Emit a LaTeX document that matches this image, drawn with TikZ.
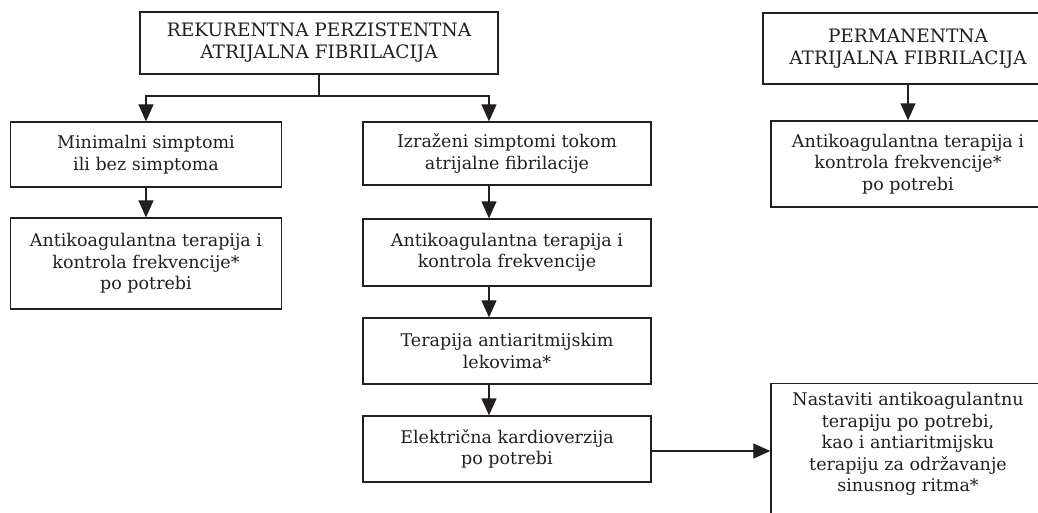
\documentclass[tikz,border=0pt]{standalone}
\usepackage{fontspec}
\setmainfont{DejaVu Serif}
\usetikzlibrary{arrows.meta}
\definecolor{ink}{RGB}{35,31,32}
\begin{document}
\begin{tikzpicture}[x=1pt,y=-1pt,
  txt/.style={align=center, text=ink, font=\fontsize{17.5}{21.5}\selectfont, inner sep=0pt},
  box/.style={txt, draw=ink, line width=1.3pt},
  head/.style={box, font=\fontsize{18.5}{22}\selectfont},
  wire/.style={draw=ink, line width=1.1pt},
  link/.style={wire, -{Triangle[length=17pt,width=15pt]}},
]
\clip (0,0) rectangle (1038,512);

% left branch: recurrent persistent AF
\node[head, minimum width=358pt, minimum height=62pt] (top) at (319,43)
  {REKURENTNA PERZISTENTNA\\ATRIJALNA FIBRILACIJA};

\node[box, minimum width=271pt, minimum height=65pt] (L1) at (146,154.5)
  {Minimalni simptomi\\ili bez simptoma};
\node[box, minimum width=271pt, minimum height=91pt] (L2) at (146,263.5)
  {Antikoagulantna terapija i\\kontrola frekvencije*\\po potrebi};

\node[box, minimum width=288pt, minimum height=63pt] (M1) at (507,153.5)
  {Izraženi simptomi tokom\\atrijalne fibrilacije};
\node[box, minimum width=288pt, minimum height=67pt] (M2) at (507,252.5)
  {Antikoagulantna terapija i\\kontrola frekvencije};
\node[box, minimum width=288pt, minimum height=66pt] (M3) at (507,351)
  {Terapija antiaritmijskim\\lekovima*};
\node[box, minimum width=288pt, minimum height=66pt] (M4) at (507,449)
  {Električna kardioverzija\\po potrebi};

% right branch: permanent AF
\node[head, minimum width=290pt, minimum height=71pt] (R0) at (908,48.5)
  {PERMANENTNA\\ATRIJALNA FIBRILACIJA};
\node[box, minimum width=274pt, minimum height=86pt] (R1) at (908,164)
  {Antikoagulantna terapija i\\kontrola frekvencije*\\po potrebi};

\node[draw=ink, line width=1.3pt, minimum width=274pt, minimum height=170pt,
  anchor=north, inner sep=0pt] (R2) at (908,383) {};
\node[txt, anchor=north] (R2t) at ([yshift=-9pt]R2.north)
  {Nastaviti antikoagulantnu\\terapiju po potrebi,\\kao i antiaritmijsku\\terapiju za održavanje\\sinusnog ritma*};

% connectors
\coordinate (split) at (319,96);
\draw[wire] (top.south) -- (split);
\draw[link] (split) -| (L1.north);
\draw[link] (split) -| ([xshift=-18pt]M1.north);
\draw[link] (L1.south) -- (L2.north);
\draw[link] ([xshift=-18pt]M1.south) -- ([xshift=-18pt]M2.north);
\draw[link] ([xshift=-18pt]M2.south) -- ([xshift=-18pt]M3.north);
\draw[link] ([xshift=-18pt]M3.south) -- ([xshift=-18pt]M4.north);
\draw[link] ([yshift=-2pt]M4.east) -- ([yshift=-2pt]M4.east -| R2.west);
\draw[link] (R0.south) -- (R1.north);
\end{tikzpicture}
\end{document}
